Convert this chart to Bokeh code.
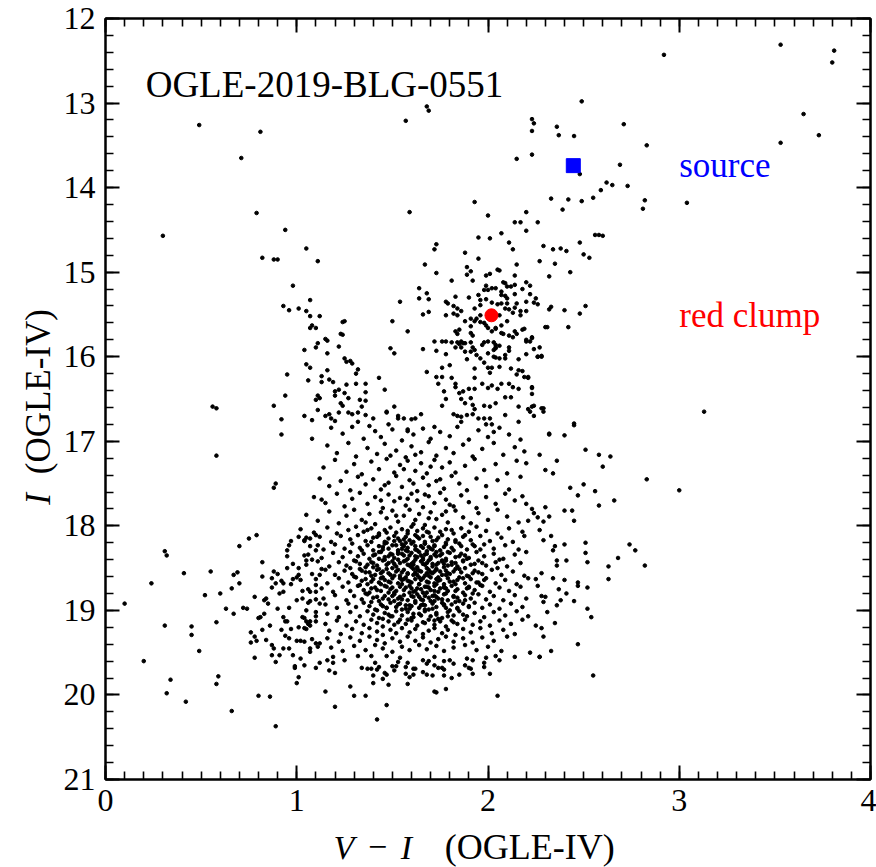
import math
from bokeh.plotting import figure
from bokeh.models import Range1d, SingleIntervalTicker, LinearAxis, Label, CustomJSTickFormatter
from bokeh.layouts import row, column
from bokeh.embed import file_html
from bokeh.resources import INLINE

# ---- data: (V-I, I) ----
upper_giants = [
(2.92,12.43),(3.53,12.31),(3.81,12.38),(3.80,12.52),(2.49,12.98),(3.65,13.13),(3.73,13.38),(3.53,13.47),(2.71,13.25),(2.83,13.50),(2.69,13.73),
(2.23,13.19),(2.24,13.24),(2.23,13.33),(2.23,13.61),(2.36,13.28),(2.37,13.38),(2.45,13.39),(2.15,13.66),(2.48,13.84),
(2.33,14.13),(2.42,14.14),(2.49,14.16),(2.55,14.12),(2.59,14.03),(2.62,13.94),(2.65,13.97),(2.73,13.98),(2.82,14.15),(2.81,14.25),(3.04,14.18),
(2.39,14.26),(2.20,14.29),(2.14,14.41),(2.17,14.41),(2.26,14.41),(2.20,14.51),(2.07,14.54),(2.11,14.65),(2.29,14.69),(2.13,14.73),(2.34,14.73),(2.38,14.72),(2.41,14.75),
(2.56,14.56),(2.58,14.56),(2.60,14.57),(2.48,14.65),(2.50,14.79),(2.53,14.83),(2.27,14.87),(2.35,14.90),(2.43,15.00),(2.32,15.05),
(0.49,13.26),(0.81,13.34),(0.71,13.65),(1.68,13.04),(1.69,13.09),(1.57,13.21),
]

left_sparse = [
(0.79,14.30),(0.94,14.50),(0.30,14.57),(1.05,14.72),(0.82,14.83),(0.88,14.85),(0.90,14.85),(1.11,14.87),(0.98,15.16),(1.07,15.33),(0.93,15.40),(0.96,15.45),(1.01,15.43),(1.05,15.46),(1.07,15.52),(1.12,15.52),(1.08,15.63),(1.07,15.66),(1.10,15.66),(1.11,15.84),(1.10,15.89),(1.04,15.92),(1.05,16.09),(1.07,16.13),(0.95,16.21),(1.06,16.28),(1.13,16.23),(1.13,16.30),(0.94,16.46),(1.10,16.51),(1.11,16.46),(1.12,16.49),(0.56,16.59),(0.58,16.61),(0.88,16.58),(1.11,16.63),(0.92,16.74),(1.04,16.70),(1.08,16.75),(0.92,16.92),(1.08,16.97),(0.58,17.17),(0.89,17.50),(0.88,17.55),(1.13,17.69),
(0.10,18.92),(0.24,18.68),(0.31,18.30),(0.32,18.35),(0.41,18.56),(0.31,19.18),(0.20,19.60),(0.34,19.82),(0.32,19.98),(0.42,20.08),(0.45,19.19),(0.45,19.29),(0.49,19.48),(0.55,18.54),(0.52,18.82),(0.60,18.80),(0.63,18.98),(0.58,19.14),(0.59,19.78),(0.58,19.87),(0.66,20.19),(0.66,18.74),(0.67,18.58),(0.69,18.55),(0.70,18.68),(0.70,18.24),(0.75,18.15),(0.79,18.11),(0.67,19.04),(0.72,18.97),(0.74,18.98),(0.78,18.84),(0.76,19.26),(0.76,19.38),(0.78,19.31),(0.79,19.36),(0.78,19.56),(0.80,20.01),(0.86,20.02),(0.89,20.37),(0.82,18.43),(0.82,18.60),(0.84,18.86),(0.83,18.88),(0.85,18.92),(0.81,19.08),(0.80,19.09),(0.83,19.04),(0.82,19.23),(0.84,19.35),(0.86,19.18),(0.87,19.41),(0.88,19.45),(0.87,19.53),(0.89,19.61),(0.91,19.53),(0.87,18.73),(0.88,18.54),(0.87,18.62),(0.89,18.68),(0.90,18.57),(0.92,18.65),(0.93,18.68),(0.91,18.80),(0.93,18.78),(0.90,18.98),(0.93,19.08),(0.92,19.23),(0.94,19.13),(0.94,19.30),(0.96,19.33),(0.97,19.22),(0.95,19.13),(0.93,19.45),(0.96,19.45),(0.98,19.53),(0.99,19.66),(0.99,19.68),(1.00,19.86),(1.01,19.79),(0.96,18.97),(0.98,18.63),(0.97,18.69),(0.95,18.50),(0.98,18.45),(0.95,18.36),(0.95,18.29),(0.96,18.23),(0.97,18.18),(1.01,18.13),(1.04,18.18),(1.05,18.14),(1.07,18.15),(1.10,18.11),(1.11,18.23),(1.04,18.35),(1.05,18.41),(1.08,18.40),(1.12,18.58),(1.13,18.51),(1.00,18.61),(1.01,18.58),(1.02,18.64),(1.01,18.50),(1.03,18.77),(1.06,18.75),(1.07,18.78),(1.00,18.88),(1.03,18.86),(1.06,18.91),(1.05,19.00),(1.07,18.89),(1.10,18.87),(1.12,18.92),(1.10,19.02),(1.10,19.07),(1.03,19.08),(1.04,19.09),(1.05,19.13),(1.06,19.16),(1.07,19.18),(1.07,19.13),(1.10,19.13),(1.04,19.21),(1.05,19.22),(1.01,19.20),(1.00,19.36),(1.02,19.36),(1.04,19.37),(1.08,19.34),(1.10,19.39),(1.12,19.39),(1.11,19.43),(1.07,19.45),(1.07,19.49),(1.02,19.57),(1.04,19.65),(1.10,19.68),(1.12,19.62),(1.10,18.70),(1.10,18.78),(1.10,18.29),
]

faint_edge = [
(1.15,19.96),(1.17,19.71),(1.16,19.59),(1.19,19.55),(1.19,19.62),(1.20,19.74),(1.20,20.14),(1.25,19.59),(1.28,19.90),(1.30,20.01),(1.32,19.54),(1.34,19.68),(1.36,20.01),(1.37,19.69),(1.39,19.69),(1.39,19.54),(1.41,19.62),(1.40,19.77),(1.42,19.70),(1.43,19.67),(1.40,19.86),(1.42,20.29),(1.45,19.81),(1.46,19.74),(1.47,20.12),(1.48,19.88),(1.47,19.76),(1.47,19.54),(1.50,19.66),(1.51,19.71),(1.52,19.66),(1.53,19.61),(1.54,19.56),(1.57,19.67),(1.58,19.62),(1.57,19.75),(1.59,19.79),(1.58,19.87),(1.61,19.69),(1.61,19.76),(1.62,19.69),(1.66,19.59),(1.66,19.73),(1.68,19.63),(1.68,19.76),(1.69,19.60),(1.71,19.77),(1.72,19.55),(1.72,19.65),(1.72,19.96),(1.73,19.97),(1.74,19.68),(1.76,19.68),(1.77,19.77),(1.77,19.60),(1.77,19.70),(1.78,19.93),(1.80,19.59),(1.81,19.80),(1.82,19.63),(1.85,19.76),(1.88,19.65),(1.89,19.57),(1.90,19.68),(1.91,19.69),(1.92,19.59),(1.92,19.75),(1.98,19.62),(1.98,19.67),(1.99,19.56),(2.01,19.75),(2.05,20.01),(2.04,19.54),(2.06,19.59),(2.14,19.55),(2.27,19.55),(2.55,19.77),
]

red_side = [
(2.31,15.65),(2.42,15.65),(2.40,15.45),(2.48,15.49),(2.51,15.40),(2.33,15.41),(2.32,15.44),(2.27,15.89),(2.28,15.99),(2.26,16.00),(2.24,15.91),(2.23,15.77),(2.20,15.80),(2.20,15.97),(2.16,16.03),(2.21,16.25),(2.23,16.36),(2.23,16.44),(2.28,16.61),(2.29,16.65),(2.23,16.59),(2.22,16.65),(2.24,16.70),(2.45,16.81),(2.32,16.92),(2.40,16.93),(2.51,17.10),(2.58,17.16),(2.64,17.18),(2.60,17.30),(2.27,17.16),(2.36,17.23),(2.30,17.34),(2.34,17.38),(2.20,17.26),(2.83,17.45),(3.00,17.58),(2.50,17.51),(2.43,17.55),(2.47,17.64),(2.56,17.59),(2.66,17.70),(2.58,17.76),(2.40,17.82),(2.44,17.82),(2.45,17.94),(2.30,17.78),(2.32,17.89),(2.29,17.95),(2.26,17.90),(2.24,17.85),(2.23,17.80),(2.20,17.74),(2.18,17.65),(2.21,17.94),(2.27,18.05),(2.33,18.12),(2.40,18.22),(2.51,18.20),(2.74,18.22),(2.77,18.29),(2.68,18.38),(2.82,18.47),(2.63,18.48),(2.63,18.63),(2.52,18.43),(2.51,18.32),(2.41,18.41),(2.36,18.41),(2.36,18.47),(2.29,18.17),(2.34,18.29),(2.35,18.24),(2.47,18.67),(2.47,18.71),(2.52,18.73),(2.40,18.64),(2.37,18.75),(2.41,18.80),(2.45,18.89),(2.38,18.88),(2.36,18.94),(2.52,18.98),(2.54,19.08),(2.35,19.15),(2.31,19.02),(2.29,18.90),(2.30,18.84),(2.33,19.48),(2.47,19.40),(2.27,19.55),(2.22,19.50),(2.29,19.31),(2.28,19.21),(2.25,19.18),(2.34,18.62),(2.25,18.63),(2.28,18.56),(2.26,18.71),(2.28,18.83),(3.13,16.65),
]

rgb_clump = [
(1.59,14.29),(1.93,14.17),(2.00,14.33),(1.95,14.59),(2.01,14.60),(1.88,14.77),(1.95,14.84),(1.72,14.73),(1.73,14.67),(1.67,14.91),(1.73,15.01),(1.81,15.10),(1.89,14.94),(1.91,14.99),(1.89,15.03),(1.92,15.10),(1.99,15.04),(2.01,15.02),(2.06,14.98),
(1.64,15.19),(1.68,15.25),(1.64,15.31),(1.69,15.32),(1.54,15.35),(1.69,15.47),(1.66,15.50),(1.78,15.35),(1.79,15.37),(1.83,15.29),(1.82,15.40),(1.84,15.43),(1.86,15.46),(1.78,15.51),(1.82,15.49),(1.84,15.51),(1.90,15.30),(1.95,15.27),(1.99,15.16),(2.00,15.21),(2.02,15.19),(1.96,15.33),(1.99,15.32),(1.96,15.39),(1.93,15.43),(1.94,15.55),(1.96,15.51),(1.96,15.59),(1.98,15.60),(1.93,15.58),(1.91,15.55),(1.88,15.58),(1.91,15.64),(1.83,15.70),(1.85,15.68),(1.84,15.73),(1.91,15.72),(1.92,15.75),(1.99,15.63),(2.00,15.66),(2.02,15.70),(2.04,15.66),(2.02,15.36),(2.05,15.38),(2.07,15.27),(2.04,15.19),(1.98,15.21),
(1.50,15.58),(1.58,15.70),(1.24,15.59),(1.25,15.58),(1.23,15.73),(1.24,15.74),(1.15,15.79),(1.16,15.81),(1.16,15.96),(1.22,15.88),(1.25,16.02),(1.26,16.06),(1.28,16.05),(1.29,16.08),(1.32,16.15),(1.31,16.20),(1.16,16.16),(1.17,16.27),(1.19,16.30),(1.22,16.39),(1.20,16.41),(1.26,16.33),(1.31,16.32),(1.36,16.32),(1.36,16.42),(1.27,16.49),(1.33,16.51),(1.36,16.52),(1.34,16.59),(1.25,16.43),(1.20,16.46),(1.23,16.55),(1.24,16.58),(1.17,16.68),(1.15,16.70),(1.22,16.66),(1.18,16.73),(1.20,16.76),(1.27,16.66),(1.29,16.68),(1.32,16.66),(1.36,16.69),(1.32,16.77),(1.40,16.73),(1.43,16.25),(1.46,16.39),(1.47,16.66),(1.51,16.59),(1.53,16.70),(1.56,16.73),(1.60,16.74),(1.62,16.73),(1.65,16.68),
(1.49,15.90),(1.51,15.96),(1.66,15.91),(1.68,16.18),(1.72,15.82),(1.73,15.93),(1.76,15.82),(1.78,15.82),(1.73,16.24),(1.74,16.32),(1.76,16.13),(1.76,16.24),(1.78,15.97),(1.80,16.10),(1.81,15.83),(1.81,16.25),(1.83,16.32),(1.84,15.83),(1.83,15.89),(1.85,15.85),(1.86,15.82),(1.86,15.89),(1.88,15.94),(1.87,15.84),(1.88,15.84),(1.91,15.83),(1.92,15.89),(1.91,15.94),(1.93,15.92),(1.94,15.98),(1.96,16.02),(1.93,16.14),(1.97,15.86),(1.98,15.83),(2.00,15.82),(2.03,15.83),(2.04,15.86),(2.03,15.92),(2.04,15.89),(2.00,15.96),(2.04,16.01),(1.98,16.07),(2.00,16.13),(2.01,16.19),(2.02,16.13),(2.06,16.12),(1.89,16.03),(1.93,16.25),(1.97,16.32),(2.00,16.37),(1.93,16.38),(1.90,16.38),(1.87,16.41),(1.85,16.43),(1.83,16.36),(1.86,16.50),(1.91,16.49),(1.88,16.55),(1.92,16.57),(1.93,16.62),(1.98,16.58),(2.01,16.59),(2.04,16.55),(1.77,16.41),(1.78,16.50),(1.76,16.58),(1.82,16.68),(1.84,16.70),(1.86,16.71),(1.86,16.77),(1.89,16.69),(1.92,16.68),(1.95,16.73),(1.98,16.73),(1.99,16.80),(2.01,16.73),(2.02,16.80),
(2.15,14.91),(2.14,15.04),(2.05,14.97),(2.20,15.12),(2.22,15.16),(2.22,15.26),(2.24,15.36),(2.26,15.38),(2.20,15.35),(2.20,15.46),(2.17,15.46),(2.17,15.51),(2.18,15.68),(2.15,15.73),(2.20,15.82),(2.23,15.78),(2.26,16.00),(2.28,16.00),(2.30,15.65),(2.12,16.14),(2.15,16.21),(2.18,16.17),(2.21,16.24),(2.23,16.37),(2.16,16.38),(2.13,16.36),(2.11,16.32),(2.12,16.48),(2.09,16.48),(2.07,16.32),(2.05,16.38),(2.02,16.34),(2.21,16.62),(2.24,16.58),(2.29,16.61),(2.45,16.79),(2.32,16.91),(2.16,16.59),(2.16,16.77),(2.09,16.69),(2.03,16.89),(1.72,16.83),(1.58,16.86),(1.53,16.73),(1.48,16.80),(1.47,16.65),
(2.09,15.13),(2.12,15.17),(2.14,15.15),(2.18,15.20),(2.14,15.26),(2.10,15.31),(2.25,15.31),(2.15,15.37),
(2.07,15.23),(2.08,15.12),(2.10,15.17),(2.09,15.28),(2.10,15.37),(2.07,15.37),(2.09,15.43),(2.11,15.44),(2.14,15.42),(2.13,15.48),(2.06,15.51),(2.10,15.58),(2.07,15.63),(2.04,15.67),(2.07,15.72),(2.08,15.73),(2.11,15.75),(2.14,15.70),(2.13,15.77),(2.19,15.67),(2.22,15.82),(2.11,15.89),(2.11,15.93),(2.09,15.98),(2.04,15.90),(2.06,15.87),(2.03,16.00),(2.06,16.02),(2.09,16.02),(2.16,16.16),(2.19,16.24),
]

turnoff_blob = [
(1.18,16.84),(1.24,16.91),(1.29,16.83),(1.35,16.97),(1.41,16.88),(1.44,16.95),(1.50,16.86),(1.55,16.99),(1.61,16.92),(1.66,16.85),(1.70,16.97),(1.75,16.89),(1.80,16.94),(1.84,16.83),(1.90,16.98),(1.95,16.87),(2.00,16.95),(2.06,16.84),(2.11,16.92),(2.17,16.98),(1.38,16.82),(1.58,16.88),
(1.16,17.05),(1.21,17.14),(1.27,17.02),(1.31,17.18),(1.37,17.08),(1.42,17.15),(1.46,17.03),(1.52,17.11),(1.57,17.19),(1.60,17.06),(1.65,17.13),(1.69,17.01),(1.73,17.17),(1.78,17.08),(1.82,17.14),(1.87,17.04),(1.92,17.18),(1.97,17.09),(2.03,17.02),(2.08,17.16),(2.14,17.07),(2.19,17.12),(1.49,17.17),(1.62,17.16),
(1.14,17.31),(1.20,17.22),(1.26,17.36),(1.30,17.27),(1.34,17.39),(1.39,17.24),(1.43,17.33),(1.47,17.21),(1.51,17.37),(1.54,17.28),(1.58,17.23),(1.62,17.35),(1.65,17.26),(1.68,17.38),(1.72,17.22),(1.76,17.31),(1.80,17.25),(1.83,17.37),(1.88,17.29),(1.93,17.21),(1.98,17.34),(2.04,17.27),(2.10,17.38),(2.15,17.23),(1.56,17.33),(1.70,17.30),
(1.12,17.44),(1.17,17.53),(1.23,17.47),(1.28,17.58),(1.32,17.42),(1.36,17.51),(1.40,17.45),(1.44,17.57),(1.48,17.49),(1.52,17.41),(1.55,17.54),(1.59,17.46),(1.63,17.59),(1.66,17.43),(1.69,17.52),(1.73,17.47),(1.77,17.56),(1.81,17.41),(1.85,17.50),(1.89,17.58),(1.94,17.44),(1.99,17.53),(2.05,17.46),(2.11,17.57),(2.17,17.42),(1.61,17.50),(1.75,17.45),(1.46,17.52),
(1.09,17.66),(1.15,17.73),(1.21,17.62),(1.25,17.77),(1.29,17.68),(1.33,17.61),(1.37,17.74),(1.41,17.66),(1.45,17.79),(1.48,17.63),(1.51,17.71),(1.54,17.67),(1.57,17.76),(1.60,17.62),(1.63,17.70),(1.66,17.78),(1.69,17.65),(1.72,17.73),(1.75,17.61),(1.78,17.69),(1.82,17.77),(1.86,17.64),(1.90,17.72),(1.94,17.79),(1.99,17.66),(2.04,17.74),(2.09,17.62),(2.14,17.70),(1.58,17.68),(1.67,17.63),(1.44,17.70),(1.80,17.75),
(1.05,17.87),(1.11,17.94),(1.17,17.83),(1.22,17.97),(1.26,17.88),(1.30,17.81),(1.34,17.93),(1.38,17.86),(1.41,17.98),(1.44,17.84),(1.47,17.91),(1.50,17.82),(1.53,17.95),(1.56,17.88),(1.59,17.81),(1.62,17.93),(1.64,17.86),(1.67,17.99),(1.70,17.84),(1.73,17.92),(1.76,17.87),(1.79,17.96),(1.83,17.82),(1.87,17.90),(1.91,17.97),(1.95,17.85),(2.00,17.93),(2.05,17.81),(2.10,17.89),(2.16,17.96),(1.52,17.88),(1.61,17.98),(1.69,17.91),(1.36,17.96),(1.78,17.83),
(1.02,18.04),(1.09,18.08),(1.16,18.02),(1.21,18.09),(1.27,18.05),(1.31,18.01),(1.35,18.07),(1.39,18.03),(1.43,18.09),(1.46,18.05),(1.49,18.02),(1.52,18.08),(1.55,18.04),(1.58,18.09),(1.60,18.01),(1.63,18.06),(1.66,18.03),(1.69,18.08),(1.72,18.02),(1.75,18.07),(1.78,18.04),(1.82,18.09),(1.86,18.03),(1.90,18.07),(1.94,18.01),(1.99,18.06),(2.05,18.09),(2.11,18.03),(2.18,18.07),
(1.04,18.17),(1.12,18.13),(1.18,18.19),(1.23,18.12),(1.28,18.16),(1.32,18.11),(1.36,18.18),(1.40,18.14),(1.43,18.11),(1.46,18.19),(1.48,18.15),(1.51,18.12),(1.54,18.18),(1.57,18.13),(1.59,18.17),(1.62,18.11),(1.64,18.15),(1.67,18.19),(1.70,18.13),(1.73,18.17),(1.76,18.11),(1.79,18.16),(1.83,18.19),(1.87,18.13),(1.91,18.17),(1.96,18.12),(2.01,18.18),(2.07,18.14),(2.13,18.19),(2.19,18.12),(1.56,18.16),(1.66,18.12),
(1.07,18.24),(1.14,18.28),(1.20,18.22),(1.25,18.27),(1.29,18.21),(1.33,18.26),(1.37,18.23),(1.40,18.29),(1.43,18.24),(1.46,18.21),(1.48,18.27),(1.50,18.23),(1.53,18.29),(1.55,18.22),(1.58,18.26),(1.60,18.21),(1.62,18.28),(1.65,18.24),(1.67,18.21),(1.70,18.27),(1.72,18.23),(1.75,18.29),(1.78,18.22),(1.81,18.26),(1.85,18.21),(1.89,18.28),(1.93,18.24),(1.98,18.22),(2.03,18.27),(2.09,18.23),(2.16,18.28),(1.57,18.29),(1.69,18.25),
(1.06,18.34),(1.13,18.38),(1.19,18.32),(1.24,18.37),(1.28,18.31),(1.32,18.36),(1.35,18.33),(1.38,18.39),(1.41,18.34),(1.44,18.31),(1.46,18.37),(1.49,18.33),(1.51,18.38),(1.53,18.31),(1.56,18.35),(1.58,18.39),(1.60,18.32),(1.62,18.36),(1.64,18.31),(1.66,18.38),(1.68,18.33),(1.70,18.37),(1.73,18.31),(1.75,18.35),(1.78,18.39),(1.80,18.32),(1.83,18.37),(1.86,18.33),(1.90,18.38),(1.94,18.31),(1.98,18.36),(2.03,18.33),(2.08,18.39),(2.14,18.34),(2.20,18.31),(1.55,18.33),(1.72,18.34),(1.65,18.35),
(1.05,18.46),(1.11,18.42),(1.17,18.48),(1.22,18.43),(1.26,18.47),(1.30,18.41),(1.33,18.45),(1.36,18.49),(1.39,18.43),(1.42,18.47),(1.45,18.41),(1.47,18.46),(1.50,18.42),(1.52,18.48),(1.54,18.44),(1.57,18.41),(1.59,18.47),(1.61,18.43),(1.63,18.49),(1.65,18.42),(1.67,18.46),(1.69,18.41),(1.71,18.48),(1.74,18.44),(1.76,18.41),(1.79,18.47),(1.81,18.43),(1.84,18.48),(1.87,18.42),(1.91,18.46),(1.95,18.41),(1.99,18.47),(2.04,18.43),(2.10,18.48),(2.17,18.44),(1.60,18.45),(1.68,18.44),(1.77,18.45),
(1.08,18.57),(1.15,18.52),(1.20,18.58),(1.25,18.53),(1.29,18.57),(1.33,18.51),(1.36,18.55),(1.39,18.59),(1.42,18.52),(1.44,18.56),(1.47,18.51),(1.49,18.58),(1.52,18.54),(1.54,18.59),(1.56,18.52),(1.58,18.56),(1.61,18.51),(1.63,18.58),(1.65,18.54),(1.67,18.59),(1.69,18.52),(1.71,18.56),(1.73,18.51),(1.76,18.58),(1.78,18.53),(1.80,18.57),(1.83,18.51),(1.86,18.55),(1.89,18.59),(1.93,18.53),(1.97,18.57),(2.02,18.52),(2.07,18.58),(2.13,18.54),(2.19,18.59),(1.62,18.55),(1.70,18.55),(1.75,18.54),
(1.10,18.63),(1.16,18.68),(1.22,18.62),(1.27,18.67),(1.31,18.61),(1.34,18.65),(1.37,18.69),(1.40,18.63),(1.43,18.67),(1.45,18.61),(1.48,18.66),(1.50,18.62),(1.53,18.68),(1.55,18.64),(1.57,18.61),(1.60,18.67),(1.62,18.63),(1.64,18.69),(1.66,18.62),(1.68,18.66),(1.70,18.61),(1.72,18.68),(1.75,18.64),(1.77,18.69),(1.79,18.62),(1.82,18.66),(1.85,18.61),(1.88,18.68),(1.91,18.63),(1.95,18.67),(1.99,18.62),(2.04,18.68),(2.09,18.64),(2.15,18.69),(2.21,18.62),(1.74,18.65),(1.58,18.65),
(1.13,18.74),(1.19,18.78),(1.24,18.72),(1.28,18.77),(1.32,18.71),(1.35,18.76),(1.38,18.79),(1.41,18.73),(1.44,18.77),(1.46,18.71),(1.49,18.75),(1.51,18.79),(1.54,18.72),(1.56,18.76),(1.59,18.71),(1.61,18.78),(1.63,18.74),(1.66,18.79),(1.68,18.72),(1.70,18.76),(1.72,18.71),(1.74,18.78),(1.77,18.73),(1.79,18.77),(1.81,18.71),(1.84,18.75),(1.87,18.79),(1.90,18.72),(1.93,18.76),(1.97,18.71),(2.01,18.78),(2.06,18.73),(2.11,18.77),(2.17,18.72),(1.65,18.75),(1.75,18.74),
(1.14,18.86),(1.20,18.82),(1.26,18.88),(1.30,18.83),(1.34,18.87),(1.37,18.81),(1.40,18.85),(1.43,18.89),(1.46,18.83),(1.48,18.87),(1.51,18.81),(1.53,18.86),(1.56,18.82),(1.58,18.88),(1.61,18.84),(1.63,18.81),(1.65,18.87),(1.67,18.83),(1.70,18.89),(1.72,18.82),(1.74,18.86),(1.77,18.81),(1.79,18.88),(1.82,18.84),(1.85,18.89),(1.88,18.82),(1.91,18.86),(1.95,18.81),(1.99,18.87),(2.03,18.83),(2.08,18.88),(2.14,18.82),(2.20,18.86),(1.69,18.85),
(1.15,18.93),(1.21,18.97),(1.27,18.92),(1.31,18.96),(1.35,18.91),(1.38,18.95),(1.41,18.99),(1.44,18.93),(1.47,18.97),(1.49,18.91),(1.52,18.96),(1.54,18.92),(1.57,18.98),(1.59,18.94),(1.62,18.91),(1.64,18.97),(1.66,18.93),(1.69,18.99),(1.71,18.92),(1.73,18.96),(1.76,18.91),(1.78,18.97),(1.81,18.93),(1.84,18.98),(1.87,18.92),(1.90,18.96),(1.93,18.91),(1.97,18.97),(2.01,18.93),(2.06,18.98),(2.12,18.92),(2.18,18.96),(1.60,18.95),
(1.16,19.04),(1.22,19.08),(1.28,19.02),(1.33,19.07),(1.37,19.01),(1.40,19.05),(1.43,19.09),(1.46,19.03),(1.49,19.07),(1.52,19.01),(1.55,19.06),(1.58,19.02),(1.61,19.08),(1.64,19.04),(1.67,19.01),(1.70,19.07),(1.73,19.03),(1.76,19.09),(1.79,19.02),(1.82,19.06),(1.85,19.01),(1.89,19.07),(1.93,19.03),(1.98,19.08),(2.03,19.02),(2.09,19.06),(2.15,19.01),(2.21,19.07),
(1.15,19.16),(1.21,19.12),(1.26,19.18),(1.31,19.13),(1.35,19.17),(1.39,19.11),(1.42,19.15),(1.45,19.19),(1.48,19.13),(1.51,19.17),(1.54,19.11),(1.57,19.16),(1.60,19.12),(1.63,19.18),(1.66,19.14),(1.69,19.11),(1.72,19.17),(1.75,19.13),(1.78,19.19),(1.81,19.12),(1.84,19.16),(1.88,19.11),(1.92,19.17),(1.96,19.13),(2.01,19.18),(2.06,19.12),(2.12,19.16),(2.18,19.11),
(1.17,19.24),(1.23,19.28),(1.29,19.22),(1.34,19.27),(1.38,19.21),(1.42,19.25),(1.45,19.29),(1.49,19.23),(1.52,19.27),(1.55,19.21),(1.59,19.26),(1.62,19.22),(1.66,19.28),(1.69,19.24),(1.72,19.21),(1.76,19.27),(1.79,19.23),(1.83,19.29),(1.87,19.22),(1.91,19.26),(1.96,19.21),(2.02,19.27),(2.08,19.23),(2.14,19.28),
(1.16,19.33),(1.22,19.37),(1.28,19.32),(1.33,19.36),(1.38,19.31),(1.42,19.35),(1.46,19.39),(1.50,19.33),(1.54,19.37),(1.58,19.31),(1.62,19.36),(1.66,19.32),(1.70,19.38),(1.74,19.34),(1.78,19.31),(1.82,19.37),(1.87,19.33),(1.92,19.38),(1.97,19.32),(2.03,19.36),(2.10,19.31),
(1.18,19.44),(1.24,19.48),(1.30,19.42),(1.36,19.47),(1.41,19.41),(1.45,19.45),(1.50,19.49),(1.55,19.43),(1.59,19.47),(1.64,19.41),(1.68,19.46),(1.73,19.42),(1.77,19.48),(1.82,19.44),(1.88,19.41),(1.94,19.47),(2.00,19.43),(2.07,19.48),
]

blob_core = [
(1.37,18.05),(1.42,18.13),(1.47,18.08),(1.53,18.15),(1.58,18.06),(1.63,18.13),(1.68,18.07),(1.74,18.14),(1.81,18.05),(1.88,18.11),
(1.39,18.19),(1.45,18.25),(1.51,18.18),(1.56,18.24),(1.61,18.19),(1.66,18.26),(1.71,18.18),(1.77,18.25),(1.83,18.17),(1.92,18.22),
(1.34,18.29),(1.40,18.35),(1.45,18.28),(1.50,18.34),(1.55,18.27),(1.59,18.35),(1.63,18.29),(1.67,18.34),(1.71,18.28),(1.76,18.33),(1.82,18.29),(1.88,18.35),(1.96,18.28),
(1.31,18.42),(1.37,18.46),(1.43,18.39),(1.48,18.44),(1.53,18.40),(1.58,18.46),(1.62,18.40),(1.66,18.45),(1.70,18.39),(1.73,18.46),(1.78,18.41),(1.83,18.44),(1.89,18.39),(1.97,18.44),(2.06,18.40),
(1.28,18.50),(1.34,18.53),(1.40,18.49),(1.45,18.54),(1.50,18.50),(1.55,18.55),(1.60,18.49),(1.64,18.53),(1.68,18.50),(1.72,18.54),(1.77,18.49),(1.82,18.54),(1.88,18.50),(1.95,18.55),(2.05,18.50),
(1.30,18.60),(1.36,18.63),(1.41,18.58),(1.46,18.64),(1.51,18.59),(1.56,18.63),(1.61,18.58),(1.65,18.64),(1.69,18.59),(1.73,18.63),(1.78,18.58),(1.84,18.64),(1.90,18.60),(1.98,18.64),
(1.33,18.70),(1.39,18.74),(1.44,18.69),(1.50,18.73),(1.55,18.69),(1.60,18.74),(1.64,18.69),(1.69,18.73),(1.73,18.69),(1.78,18.74),(1.83,18.69),(1.89,18.74),(1.96,18.70),
(1.36,18.80),(1.42,18.84),(1.48,18.79),(1.54,18.84),(1.59,18.79),(1.64,18.84),(1.68,18.79),(1.73,18.84),(1.78,18.80),(1.84,18.85),(1.92,18.80),
(1.39,18.90),(1.45,18.95),(1.51,18.89),(1.57,18.94),(1.62,18.89),(1.67,18.94),(1.72,18.89),(1.77,18.94),(1.83,18.90),(1.90,18.95),
(1.42,19.00),(1.48,19.05),(1.55,18.99),(1.61,19.04),(1.67,18.99),(1.73,19.05),(1.80,19.00),(1.87,19.05),
(1.45,19.10),(1.53,19.14),(1.60,19.09),(1.67,19.15),(1.74,19.10),(1.82,19.14),
]

blob_core_dense = [
(1.47,18.20),(1.52,18.23),(1.57,18.20),(1.62,18.24),(1.67,18.21),(1.72,18.24),(1.78,18.20),(1.86,18.24),
(1.43,18.31),(1.48,18.36),(1.53,18.33),(1.58,18.30),(1.63,18.37),(1.68,18.30),(1.73,18.36),(1.79,18.31),(1.85,18.36),
(1.40,18.44),(1.46,18.40),(1.51,18.45),(1.56,18.42),(1.61,18.46),(1.66,18.40),(1.71,18.45),(1.76,18.42),(1.81,18.46),(1.87,18.41),(1.93,18.45),
(1.38,18.55),(1.43,18.51),(1.48,18.56),(1.53,18.52),(1.58,18.57),(1.63,18.51),(1.68,18.56),(1.73,18.52),(1.79,18.56),(1.85,18.51),(1.92,18.56),
(1.39,18.66),(1.44,18.62),(1.49,18.67),(1.54,18.62),(1.59,18.66),(1.64,18.61),(1.69,18.67),(1.74,18.61),(1.80,18.66),(1.87,18.62),(1.94,18.67),
(1.42,18.76),(1.47,18.72),(1.52,18.77),(1.57,18.73),(1.62,18.77),(1.67,18.72),(1.72,18.77),(1.77,18.72),(1.83,18.77),(1.90,18.73),
(1.45,18.86),(1.50,18.83),(1.55,18.87),(1.60,18.83),(1.66,18.88),(1.71,18.83),(1.76,18.87),(1.82,18.83),(1.88,18.88),
(1.47,18.97),(1.53,18.93),(1.59,18.98),(1.65,18.94),(1.71,18.98),(1.77,18.93),(1.84,18.97),
(1.50,19.07),(1.58,19.11),(1.65,19.06),(1.72,19.12),(1.79,19.07),
]

source_vi = [2.446]
source_i = [13.74]
clump_vi = [2.018]
clump_i = [15.51]

stars = upper_giants + left_sparse + faint_edge + red_side + rgb_clump + turnoff_blob + blob_core + blob_core_dense
vi = [s[0] for s in stars]
imag = [s[1] for s in stars]

FONT = "Liberation Serif"

x_rng = Range1d(0, 4)
y_rng = Range1d(21, 12)

TOP = 18
BOTTOM = 47
H = 826

p = figure(width=816, height=H, x_range=x_rng, y_range=y_rng,
           output_backend="svg", toolbar_location=None,
           min_border_left=43, min_border_right=6, min_border_top=TOP, min_border_bottom=BOTTOM)
p.xgrid.visible = False
p.ygrid.visible = False
p.outline_line_color = "black"
p.outline_line_width = 2

blank = CustomJSTickFormatter(code="return '';")

def style_axis(ax, show_labels):
    ax.major_tick_in = 14
    ax.major_tick_out = 0
    ax.minor_tick_in = 8
    ax.minor_tick_out = 0
    ax.major_tick_line_width = 2
    ax.minor_tick_line_width = 1.6
    ax.axis_line_width = 2
    ax.major_tick_line_color = "black"
    ax.minor_tick_line_color = "black"
    ax.axis_line_color = "black"
    ax.major_label_text_font = FONT
    ax.major_label_text_color = "black"
    ax.major_label_text_font_size = "32px"
    if show_labels:
        ax.major_label_standoff = 10
    else:
        ax.formatter = blank
        ax.major_label_standoff = 0

p.xaxis.ticker = SingleIntervalTicker(interval=1, num_minor_ticks=10)
p.yaxis.ticker = SingleIntervalTicker(interval=1, num_minor_ticks=5)
for ax in p.xaxis:
    style_axis(ax, True)
for ax in p.yaxis:
    style_axis(ax, True)

top = LinearAxis(ticker=SingleIntervalTicker(interval=1, num_minor_ticks=10))
right = LinearAxis(ticker=SingleIntervalTicker(interval=1, num_minor_ticks=5))
style_axis(top, False)
style_axis(right, False)
p.add_layout(top, "above")
p.add_layout(right, "right")

p.scatter(vi, imag, size=3.6, color="black", marker="circle")
p.scatter(source_vi, source_i, size=14, marker="square", color="blue")
p.scatter(clump_vi, clump_i, size=13, marker="circle", color="red")

def lab(fig, x, y, text, size, color="black", style="normal", angle=0.0, align="left"):
    fig.add_layout(Label(x=x, y=y, text=text, text_font=FONT, text_font_size=size,
                         text_color=color, text_font_style=style, angle=angle,
                         text_align=align, text_baseline="middle"))

lab(p, 0.21, 12.78, "OGLE-2019-BLG-0551", "37px")
lab(p, 3.0, 13.74, "source", "35px", color="blue")
lab(p, 3.0, 15.51, "red clump", "35px", color="red")

# y axis label panel (shares the I scale)
yfig = figure(width=60, height=H, x_range=Range1d(0, 1), y_range=y_rng,
              output_backend="svg", toolbar_location=None,
              x_axis_type=None, y_axis_type=None,
              min_border_left=0, min_border_right=0, min_border_top=TOP, min_border_bottom=BOTTOM)
yfig.outline_line_color = None
lab(yfig, 0.64, 17.75, "I", "35px", style="italic", angle=math.pi / 2)
lab(yfig, 0.64, 17.39, "(OGLE-IV)", "35px", angle=math.pi / 2)

# x axis label panel (shares the V-I scale)
xfig = figure(width=876, height=867 - H, x_range=x_rng, y_range=Range1d(0, 1),
              output_backend="svg", toolbar_location=None,
              x_axis_type=None, y_axis_type=None,
              min_border_left=103, min_border_right=6, min_border_top=0, min_border_bottom=0)
xfig.outline_line_color = None
lab(xfig, 1.20, 0.5, "V", "34px", style="italic")
lab(xfig, 1.38, 0.5, "\u2212", "34px")
lab(xfig, 1.55, 0.5, "I", "34px", style="italic")
lab(xfig, 1.78, 0.5, "(OGLE-IV)", "36px")

layout = column(row(yfig, p), xfig)

open("out.html", "w").write(file_html(layout, INLINE))
